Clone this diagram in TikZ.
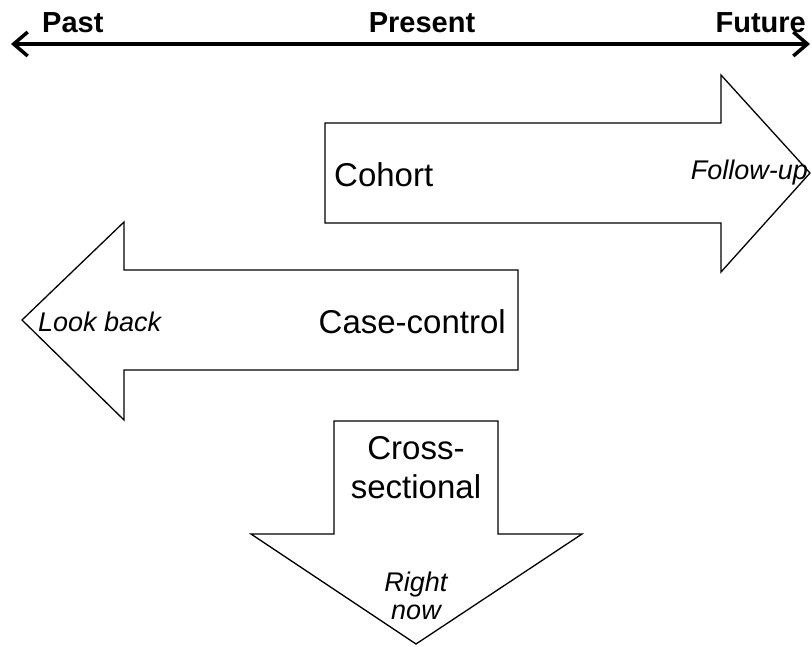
\documentclass[tikz,border=0pt]{standalone}
\usepackage{fontspec}
\setmainfont{Liberation Sans}
\usepackage{tikz}
\usetikzlibrary{arrows.meta,positioning}

\begin{document}
\begin{tikzpicture}[
	x=1pt, y=-1pt,
	blockarrow/.style={draw, line width=1.3pt, fill=white, line join=miter},
	timeline/.style={line width=3.5pt, {Straight Barb[length=14pt,width=24pt]}-{Straight Barb[length=14pt,width=24pt]}},
	every node/.style={inner sep=0pt},
	era/.style={font=\fontsize{29}{31}\selectfont\bfseries},
	design/.style={font=\fontsize{33}{39}\selectfont, align=center},
	hint/.style={font=\fontsize{27}{28}\selectfont\itshape, align=center}
	]
	\useasboundingbox (0,0) rectangle (812,646);
	% time axis
	\coordinate (pastend) at (11,44);
	\coordinate (futureend) at (810,44);
	\draw[timeline] (pastend) -- (futureend);
	\node[era, anchor=west] (past) at (42,23) {Past};
	\node[era] (present) at (422,23) {Present};
	\node[era, anchor=east] (future) at (806,23) {Future};
	% cohort
	\draw[blockarrow] (325,123) -- (721,123) -- (721,75) -- (810,173)
		-- (721,272) -- (721,223) -- (325,223) -- cycle;
	\node[design, anchor=west] (cohort) at (334,175) {Cohort};
	\node[hint, anchor=east] (followup) at (808,173) {Follow-up};
	% case-control
	\draw[blockarrow] (518,270) -- (124,270) -- (124,222) -- (22,320)
		-- (124,420) -- (124,370) -- (518,370) -- cycle;
	\node[design, anchor=east] (casecontrol) at (506,322) {Case-control};
	\node[hint, anchor=west] (lookback) at (38,322) {Look back};
	% cross-sectional
	\draw[blockarrow] (334,421) -- (498,421) -- (498,534) -- (582,534)
		-- (416,644) -- (251,534) -- (334,534) -- cycle;
	\node[design] (crosssec) at (416,468) {Cross-\\sectional};
	\node[hint] (rightnow) at (416,596) {Right\\now};
\end{tikzpicture}
\end{document}
